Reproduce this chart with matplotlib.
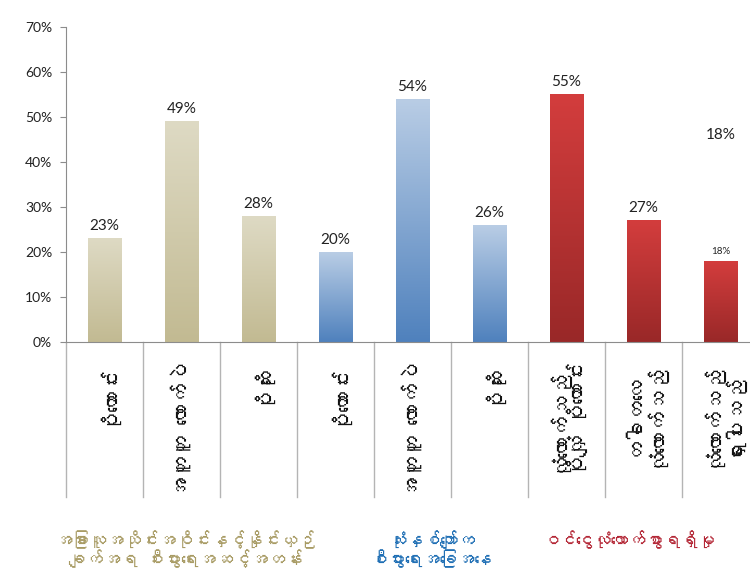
import numpy as np
import matplotlib.pyplot as plt
from matplotlib import font_manager
from matplotlib.colors import LinearSegmentedColormap

# 데이터
categories = ["ပိုကောင်း", "အတူတူ လောက်ပဲ", "ပိုဆိုး",
              "ပိုကောင်း", "အတူတူ လောက်ပဲ", "ပိုဆိုး",
              "လုံလောက်သည်\nပိုလျှံ ပိုကောင်း",
              "တခါတလေ\nလုံလောက်သည်",
              "လုံလောက်သည်\nရှားပါးသည်"]
values = [0.23, 0.49, 0.28, 0.20, 0.54, 0.26, 0.55, 0.27, 0.18]
value_labels = ["23%", "49%", "28%", "20%", "54%", "26%", "55%", "27%", "18%"]
group_names = ["အခြားလူအသိုင်းအဝိုင်းနှင့်နှိုင်းယှဉ်\nချက်အရ စီးပွားရေးအဆင့်အတန်း",
               "သုံးနှစ်ကျော်က\nစီးပွားရေးအခြေအနေ",
               "ဝင်ငွေလုံလောက်စွာရရှိမှု"]
group_of = [0, 0, 0, 1, 1, 1, 2, 2, 2]
y_ticks = [0, 0.1, 0.2, 0.3, 0.4, 0.5, 0.6, 0.7]
y_tick_labels = ["0%", "10%", "20%", "30%", "40%", "50%", "60%", "70%"]
stray_label = ("18%", 0.46)   # 차트에 떠 있는 레이블

# 그룹별 색상 (아래, 위)
bar_colors = [("#C2BA92", "#DEDAC4"), ("#4F81BD", "#B9CDE5"), ("#992828", "#D33D3D")]
text_colors = ["#A89B64", "#1E6EB4", "#B42837"]


# 미얀마 문자를 지원하는 폰트 찾기
def find_myanmar_font():
    try:
        from fontTools.ttLib import TTFont
    except Exception:
        return None
    for f in font_manager.fontManager.ttflist:
        try:
            tt = TTFont(f.fname, fontNumber=0, lazy=True)
            cmap = tt.getBestCmap()
            if cmap and 0x1000 in cmap and 0x1031 in cmap:
                return f.name
        except Exception:
            pass
    return None


mm_font = find_myanmar_font()
mm_family = [mm_font, 'DejaVu Sans'] if mm_font else ['Noto Sans', 'DejaVu Sans']
plt.rcParams['font.family'] = ['Lato', 'DejaVu Sans']

fig = plt.figure(figsize=(7.5, 5.72), dpi=100)
ax = fig.add_axes([66 / 750, 230 / 572, 693 / 750, 315 / 572])

x = np.arange(len(values))
width = 0.43
bars = ax.bar(x, values, width=width, color='none', edgecolor='none', zorder=2)

# 그라데이션 막대
grad = np.linspace(0, 1, 256).reshape(-1, 1)
for bar, g in zip(bars, group_of):
    cmap = LinearSegmentedColormap.from_list('g', bar_colors[g])
    bx, bw, bh = bar.get_x(), bar.get_width(), bar.get_height()
    ax.imshow(grad, cmap=cmap, origin='lower', aspect='auto',
              extent=[bx, bx + bw, 0, bh], zorder=2)

ax.set_xlim(-0.5, len(values) - 0.5)
ax.set_ylim(0, 0.7)

# 값 레이블
for i, (bar, lab) in enumerate(zip(bars, value_labels)):
    size = 7 if i == len(values) - 1 else 11
    ax.text(bar.get_x() + bar.get_width() / 2, bar.get_height() + 0.012, lab,
            ha='center', va='bottom', fontsize=size, color='#222222')
ax.text(x[-1], stray_label[1], stray_label[0], ha='center', va='center',
        fontsize=11, color='#222222')

# 축 설정
ax.set_yticks(y_ticks)
ax.set_yticklabels(y_tick_labels, fontsize=10, color='#222222')
ax.set_xticks([])
for s in ['top', 'right']:
    ax.spines[s].set_visible(False)
for s in ['left', 'bottom']:
    ax.spines[s].set_color('#8C8C8C')
ax.tick_params(axis='y', length=4, color='#8C8C8C', pad=6)

# 카테고리 구분선
for xv in np.arange(-0.5, len(values), 1.0):
    ax.plot([xv, xv], [0, -0.345], color='#B4B4B4', lw=1, clip_on=False, zorder=1)

# 카테고리 레이블 (세로)
for xi, cat in zip(x, categories):
    ax.text(xi, -0.045, cat, rotation=90, ha='center', va='top', fontsize=15,
            family=mm_family, color='#111111', linespacing=1.0)

# 그룹 레이블
group_x = [1.05, 4.25, 6.8]
group_y = [-0.46, -0.46, -0.44]
for gx, gy, name, c in zip(group_x, group_y, group_names, text_colors):
    ax.text(gx, gy, name, ha='center', va='center', fontsize=12.5, color=c,
            family=mm_family, linespacing=1.0)

fig.savefig('out.png', dpi=100)
